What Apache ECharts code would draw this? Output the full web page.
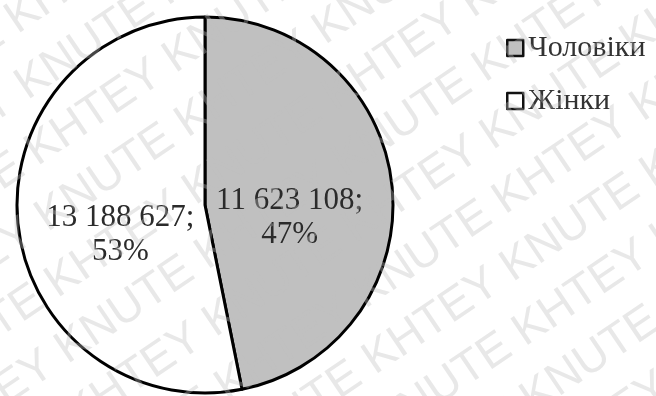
<!DOCTYPE html>
<html>
<head>
<meta charset="utf-8">
<script src="https://cdn.jsdelivr.net/npm/echarts@6/dist/echarts.min.js"></script>
<style>
  html, body { margin: 0; padding: 0; background: #fff; }
  #chart { width: 656px; height: 396px; }
</style>
</head>
<body>
<div id="chart"></div>
<script>
// Population by sex
const categories = ['Чоловіки', 'Жінки'];
const values = [11623108, 13188627];
const sliceColors = ['#c0c0c0', '#ffffff'];

// Watermark words, repeated along slanted rows
const watermarkWords = ['KHTEY', 'KNUTE'];

function groupDigits(n) {
  return String(n).replace(/\B(?=(\d{3})+(?!\d))/g, ' ');
}

const pieData = categories.map((name, i) => ({
  name: name,
  value: values[i],
  itemStyle: { color: sliceColors[i] }
}));

// Slanted watermark rows
const wmAngle = 34 * Math.PI / 180;
const wmElements = [];
const rowText = (shift) => {
  let s = '';
  for (let k = 0; k < 12; k++) s += watermarkWords[(k + shift) % 2] + ' ';
  return s;
};
for (let i = -4; i < 14; i++) {
  wmElements.push({
    type: 'text',
    x: -300 + i * 10,
    y: 60 + i * 66,
    rotation: wmAngle,
    style: {
      text: rowText(((i % 2) + 2) % 2),
      font: '46px "Liberation Sans", sans-serif',
      fill: 'rgba(190,190,190,0.36)'
    },
    silent: true,
    z: 100
  });
}

const chart = echarts.init(document.getElementById('chart'), null, { renderer: 'canvas' });
chart.setOption({
  animation: false,
  backgroundColor: '#ffffff',
  legend: {
    orient: 'vertical',
    left: 506,
    top: 33,
    padding: 0,
    itemWidth: 16,
    itemHeight: 16,
    itemGap: 23,
    icon: 'rect',
    itemStyle: { borderColor: '#111', borderWidth: 2.5 },
    textStyle: {
      fontFamily: '"Liberation Serif", "Times New Roman", serif',
      fontSize: 30,
      lineHeight: 30,
      color: '#333'
    },
    data: categories
  },
  graphic: wmElements,
  series: [
    {
      type: 'pie',
      center: [205, 205],
      radius: [0, 188],
      startAngle: 90,
      clockwise: true,
      silent: true,
      label: { show: false },
      labelLine: { show: false },
      itemStyle: { borderColor: '#000', borderWidth: 3 },
      data: pieData
    },
    {
      // carries the value labels at a smaller radius
      type: 'pie',
      center: [205, 226],
      radius: [0, 164],
      startAngle: 90,
      clockwise: true,
      silent: true,
      percentPrecision: 0,
      itemStyle: { color: 'rgba(0,0,0,0)', borderWidth: 0 },
      label: {
        show: true,
        position: 'inside',
        fontFamily: '"Liberation Serif", "Times New Roman", serif',
        fontSize: 31,
        lineHeight: 34,
        color: '#2b2b2b',
        formatter: (p) => groupDigits(p.value) + ';\n' + p.percent + '%'
      },
      labelLine: { show: false },
      data: categories.map((name, i) => ({ name: name, value: values[i] }))
    }
  ]
});
</script>
</body>
</html>
